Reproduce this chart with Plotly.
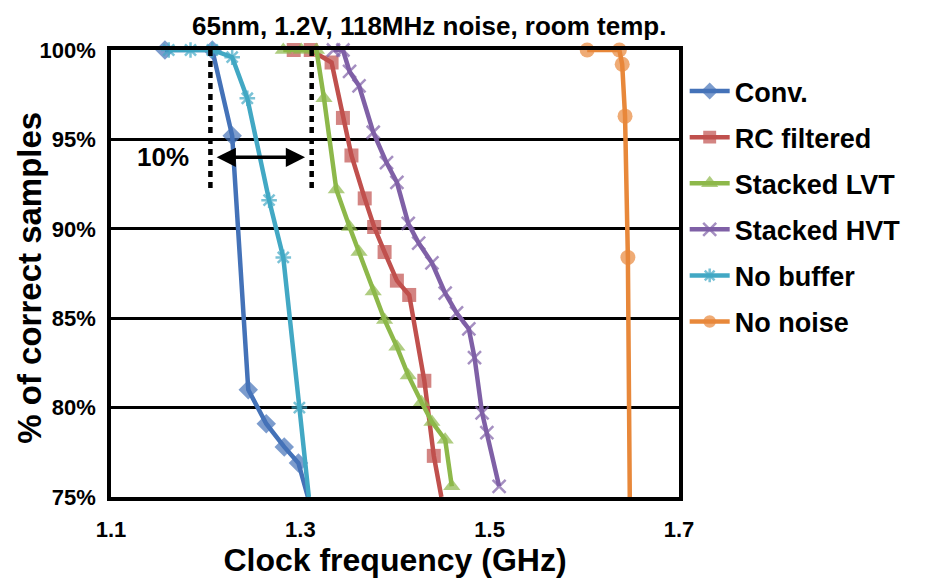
import plotly.graph_objects as go

# ---- data ----
conv_x = [1.157, 1.207, 1.228, 1.245, 1.264, 1.283, 1.298, 1.308]
conv_y = [100, 100, 95.2, 81.0, 79.1, 77.8, 76.9, 75.0]

rc_x = [1.293, 1.311, 1.333, 1.345, 1.354, 1.368, 1.378, 1.389, 1.402, 1.415, 1.431, 1.441, 1.449]
rc_y = [100, 100, 99.3, 96.2, 94.1, 91.7, 90.1, 88.7, 87.1, 86.3, 81.5, 77.3, 75.0]

lvt_x = [1.282, 1.301, 1.317, 1.325, 1.338, 1.352, 1.362, 1.377, 1.389, 1.402, 1.414, 1.428, 1.439, 1.453, 1.460]
lvt_y = [100, 100, 100, 97.3, 92.2, 90.1, 88.7, 86.5, 84.9, 83.4, 81.8, 80.3, 79.2, 78.2, 75.6]

hvt_x = [1.335, 1.345, 1.352, 1.362, 1.377, 1.391, 1.402, 1.414, 1.425, 1.439, 1.453, 1.465, 1.478, 1.484, 1.492, 1.497, 1.510]
hvt_y = [100, 100, 98.8, 98.0, 95.4, 93.7, 92.6, 90.3, 89.2, 88.1, 86.4, 85.3, 84.4, 82.8, 79.7, 78.6, 75.6]

nobuf_x = [1.161, 1.184, 1.207, 1.228, 1.244, 1.267, 1.282, 1.299, 1.309]
nobuf_y = [100, 100, 100, 99.6, 97.3, 91.6, 88.4, 80.0, 75.0]

nonoise_x = [1.603, 1.637, 1.640, 1.643, 1.646, 1.648]
nonoise_y = [100, 100, 99.2, 96.3, 88.4, 75.0]

series_names = ["Conv.", "RC filtered", "Stacked LVT", "Stacked HVT", "No buffer", "No noise"]
x_ticks = [1.1, 1.3, 1.5, 1.7]
y_ticks = [75, 80, 85, 90, 95, 100]
y_tick_labels = ["75%", "80%", "85%", "90%", "95%", "100%"]

# annotation values
dash_left = 1.205
dash_right = 1.312
dash_bottom = 92.2
arrow_y = 94.0

FONT = "Arial, Liberation Sans, sans-serif"

styles = [
    dict(color="#4472B8", symbol="diamond", size=15, lw=0),
    dict(color="#C0504D", symbol="square", size=14, lw=0),
    dict(color="#8DB84A", symbol="triangle-up", size=15, lw=0),
    dict(color="#7F60A6", symbol="x-thin-open", size=13, lw=2.5),
    dict(color="#42A8C4", symbol="asterisk-open", size=13, lw=2.5),
    dict(color="#E8883A", symbol="circle", size=15, lw=0),
]
xs = [conv_x, rc_x, lvt_x, hvt_x, nobuf_x, nonoise_x]
ys = [conv_y, rc_y, lvt_y, hvt_y, nobuf_y, nonoise_y]

fig = go.Figure()
for name, x, y, st in zip(series_names, xs, ys, styles):
    sizes = [0 if v <= 75.0 else st["size"] for v in y]
    fig.add_trace(go.Scatter(
        x=x, y=y, name=name, mode="lines+markers",
        legendgroup=name,
        line=dict(color=st["color"], width=4.5),
        marker=dict(symbol=st["symbol"], size=sizes, color=st["color"],
                    line=dict(color=st["color"], width=st["lw"])),
        cliponaxis=False,
    ))

# dashed guide lines
for xv in (dash_left, dash_right):
    fig.add_shape(type="line", x0=xv, x1=xv, y0=100, y1=dash_bottom,
                  xref="x", yref="y", line=dict(color="black", width=4.5, dash="6px,5px"))

# double arrow
fig.add_annotation(x=dash_right - 0.007, y=arrow_y, ax=dash_left + 0.005, ay=arrow_y,
                   xref="x", yref="y", axref="x", ayref="y", text="",
                   showarrow=True, arrowhead=2, arrowside="end+start",
                   arrowsize=1.1, arrowwidth=3.5, arrowcolor="black")
fig.add_annotation(x=1.155, y=arrow_y, xref="x", yref="y", text="<b>10%</b>",
                   showarrow=False, font=dict(family=FONT, size=26, color="black"))

# y-axis title as annotation for precise placement
fig.add_annotation(x=-0.143, y=0.49, xref="paper", yref="paper",
                   text="<b>% of correct samples</b>", textangle=-90,
                   showarrow=False, xanchor="center", yanchor="middle",
                   font=dict(family=FONT, size=33, color="black"))

# chart title as annotation in the top margin
fig.add_annotation(x=0.56, y=1, xref="paper", yref="paper", yshift=7,
                   text="<b>65nm, 1.2V, 118MHz noise, room temp.</b>",
                   showarrow=False, xanchor="center", yanchor="bottom",
                   font=dict(family=FONT, size=26, color="black"))

fig.update_layout(
    width=932, height=579,
    margin=dict(l=103, r=261, t=42, b=90),
    paper_bgcolor="white", plot_bgcolor="white",
    font=dict(family=FONT, color="black"),
    showlegend=True,
    legend=dict(x=1.01, xanchor="left", y=0.962, yanchor="top",
                font=dict(family=FONT, size=27, color="black", weight="bold"),
                itemwidth=40, tracegroupgap=8, bgcolor="rgba(0,0,0,0)"),
    xaxis=dict(range=[1.1, 1.7], tickvals=x_ticks, ticktext=[f"{v:.1f}" for v in x_ticks],
               showgrid=False, zeroline=False, showline=True, linecolor="black",
               linewidth=3.5, mirror=True, ticks="", ticklabelstandoff=10,
               tickfont=dict(family=FONT, size=22, color="black", weight="bold"),
               title=dict(text="<b>Clock frequency (GHz)</b>", standoff=0,
                          font=dict(family=FONT, size=32, color="black"))),
    yaxis=dict(range=[75, 100], tickvals=y_ticks, ticktext=y_tick_labels,
               showgrid=True, gridcolor="black", gridwidth=2.5, zeroline=False,
               showline=True, linecolor="black", linewidth=3.5, mirror=True, ticks="",
               ticklabelstandoff=7,
               tickfont=dict(family=FONT, size=22, color="black", weight="bold")),
)

fig.write_html("out.html")
